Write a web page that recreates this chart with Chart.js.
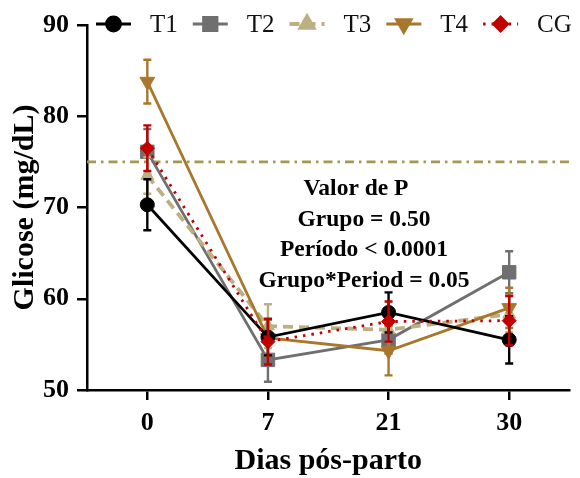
<!DOCTYPE html>
<html>
<head>
<meta charset="utf-8">
<script src="https://cdn.jsdelivr.net/npm/chart.js@4.4.1/dist/chart.umd.min.js"></script>
<style>
  html, body { margin: 0; padding: 0; background: #fff; }
</style>
</head>
<body>
<canvas id="glicoseChart" width="580" height="478"></canvas>
<script>
// Dias pós-parto
const dias = ["0", "7", "21", "30"];
const yTicks = [50, 60, 70, 80, 90];

// médias e erros por grupo
const t1 = [70.3, 55.8, 58.5, 55.5];
const t1Err = [2.8, 2.0, 2.2, 2.6];
const t2 = [76.1, 53.3, 55.5, 62.9];
const t2Err = [2.5, 2.4, 1.5, 2.3];
const t3 = [73.5, 57.0, 56.6, 58.3];
const t3Err = [2.0, 2.4, 2.0, 2.0];
const t4 = [83.8, 55.7, 54.3, 59.0];
const t4Err = [2.4, 2.0, 2.7, 2.2];
const cg = [76.5, 55.3, 57.5, 57.6];
const cgErr = [2.5, 2.5, 2.2, 2.7];

const refValue = 75;
const pValues = ["Valor de P", "Grupo = 0.50", "Período < 0.0001", "Grupo*Period = 0.05"];

const serif = '"Liberation Serif", "Times New Roman", serif';

// barras de erro, desenhadas antes de cada série
const errorBars = {
  id: "errorBars",
  beforeDatasetDraw(chart, args) {
    const ds = chart.data.datasets[args.index];
    if (!ds.errors) return;
    const ctx = chart.ctx;
    const y = chart.scales.y;
    ctx.save();
    ctx.strokeStyle = ds.borderColor;
    ctx.lineWidth = 2.4;
    ctx.setLineDash([]);
    args.meta.data.forEach((pt, i) => {
      const v = ds.data[i], e = ds.errors[i];
      const yTop = y.getPixelForValue(v + e);
      const yBot = y.getPixelForValue(v - e);
      ctx.beginPath();
      ctx.moveTo(pt.x, yTop); ctx.lineTo(pt.x, yBot);
      ctx.moveTo(pt.x - 4, yTop); ctx.lineTo(pt.x + 4, yTop);
      ctx.moveTo(pt.x - 4, yBot); ctx.lineTo(pt.x + 4, yBot);
      ctx.stroke();
    });
    ctx.restore();
  }
};

// linha de referência tracejada
const refLine = {
  id: "refLine",
  beforeDatasetsDraw(chart) {
    const ctx = chart.ctx, area = chart.chartArea;
    const yy = chart.scales.y.getPixelForValue(refValue);
    ctx.save();
    ctx.strokeStyle = "#a39a52";
    ctx.lineWidth = 2.8;
    ctx.setLineDash([9, 5, 2.5, 5]);
    ctx.beginPath();
    ctx.moveTo(area.left, yy);
    ctx.lineTo(area.right, yy);
    ctx.stroke();
    ctx.restore();
  }
};

// legenda e texto dos valores de P
const extras = {
  id: "extras",
  afterDraw(chart) {
    const ctx = chart.ctx;
    ctx.save();
    // legenda
    let x = 96;
    const ly = 24;
    ctx.font = "25px " + serif;
    ctx.textBaseline = "middle";
    ctx.textAlign = "left";
    chart.data.datasets.forEach(ds => {
      ctx.strokeStyle = ds.borderColor;
      ctx.fillStyle = ds.borderColor;
      ctx.lineWidth = ds.borderWidth;
      ctx.lineCap = "butt";
      ctx.setLineDash(ds.borderDash || []);
      ctx.beginPath();
      ctx.moveTo(x, ly); ctx.lineTo(x + 35, ly);
      ctx.stroke();
      ctx.setLineDash([]);
      Chart.helpers.drawPoint(ctx, {
        pointStyle: ds.pointStyle,
        rotation: ds.pointRotation || 0,
        radius: ds.pointRadius,
        borderWidth: 1
      }, x + 17.5, ly);
      ctx.fillStyle = "#111";
      ctx.fillText(ds.label, x + 54, ly + 1);
      x += 54 + ctx.measureText(ds.label).width + 15;
    });
    // valores de P
    ctx.fillStyle = "#000";
    ctx.textAlign = "center";
    ctx.font = "bold 23.5px " + serif;
    ctx.fillText(pValues[0], 356, 189);
    ctx.fillText(pValues[1], 364, 220);
    ctx.fillText(pValues[2], 364, 250);
    ctx.fillText(pValues[3], 364, 281);
    ctx.restore();
  }
};

function serie(label, data, errors, color, style, extra) {
  return Object.assign({
    label: label,
    data: data,
    errors: errors,
    borderColor: color,
    backgroundColor: color,
    borderWidth: 2.8,
    pointStyle: style,
    pointBorderWidth: 1,
    tension: 0
  }, extra);
}

new Chart(document.getElementById("glicoseChart"), {
  type: "line",
  data: {
    labels: dias,
    datasets: [
      serie("T1", t1, t1Err, "#000000", "circle", { pointRadius: 7, order: 1 }),
      serie("T2", t2, t2Err, "#6f6f6f", "rect", { pointRadius: 9.5, order: 4 }),
      serie("T3", t3, t3Err, "#bcb083", "triangle", { pointRadius: 7.5, borderWidth: 3.8, borderDash: [10, 6], order: 3 }),
      serie("T4", t4, t4Err, "#a8772c", "triangle", { pointRadius: 8.5, pointRotation: 180, order: 2 }),
      serie("CG", cg, cgErr, "#c00000", "rectRot", { pointRadius: 7, borderDash: [2.5, 6], order: 0 })
    ]
  },
  options: {
    responsive: false,
    animation: false,
    layout: { padding: { top: 25, left: 0, right: 0, bottom: 0 } },
    plugins: {
      legend: { display: false },
      tooltip: { enabled: false }
    },
    scales: {
      x: {
        type: "category",
        offset: true,
        afterFit(scale) { scale.height = 88; },
        grid: {
          offset: false,
          drawOnChartArea: false,
          drawTicks: true,
          tickLength: 10,
          color: "#000",
          lineWidth: 2.5
        },
        border: { display: true, color: "#000", width: 2.5 },
        ticks: {
          color: "#000",
          padding: 8,
          font: { family: serif, size: 26, weight: "bold" }
        },
        title: {
          display: true,
          text: "Dias pós-parto",
          color: "#000",
          padding: { top: 0, bottom: 0 },
          font: { family: serif, size: 30, weight: "bold", lineHeight: 1.1 }
        }
      },
      y: {
        min: yTicks[0],
        max: yTicks[yTicks.length - 1],
        afterFit(scale) { scale.width = 87; },
        afterBuildTicks(scale) { scale.ticks = yTicks.map(v => ({ value: v })); },
        grid: {
          drawOnChartArea: false,
          drawTicks: true,
          tickLength: 10,
          color: "#000",
          lineWidth: 2.5
        },
        border: { display: true, color: "#000", width: 2.5 },
        ticks: {
          color: "#000",
          padding: 8,
          font: { family: serif, size: 26, weight: "bold" }
        },
        title: {
          display: true,
          text: "Glicose (mg/dL)",
          color: "#000",
          padding: { top: 7, bottom: 0 },
          font: { family: serif, size: 30, weight: "bold", lineHeight: 1.2 }
        }
      }
    }
  },
  plugins: [refLine, errorBars, extras]
});
</script>
</body>
</html>
